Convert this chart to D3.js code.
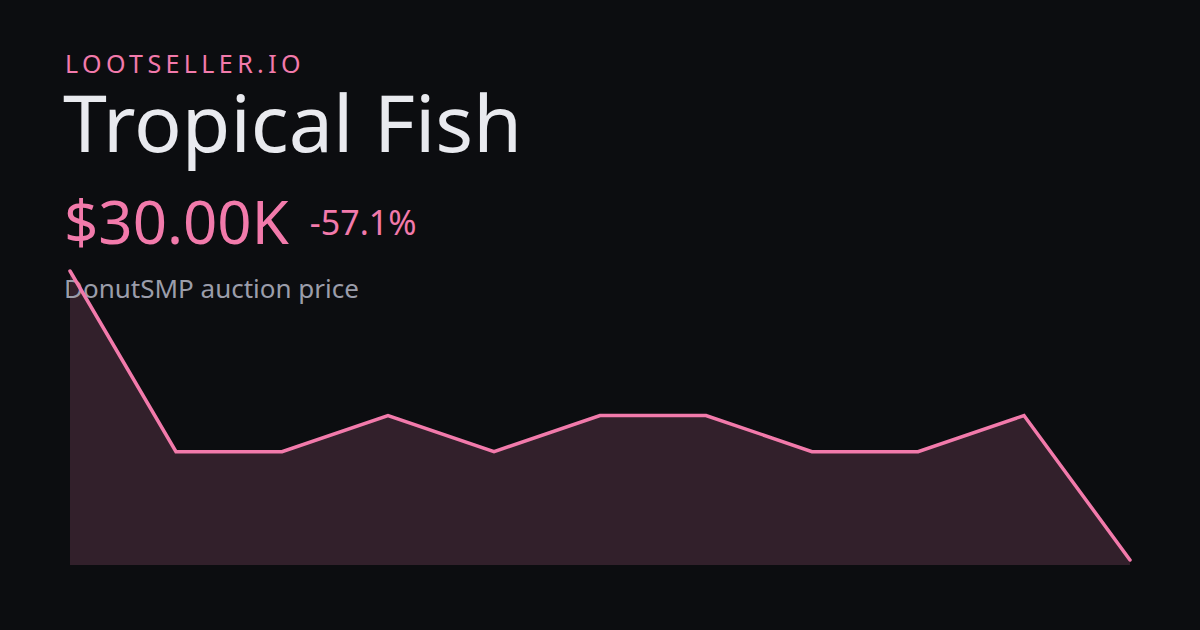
<!DOCTYPE html>
<html><head><meta charset="utf-8">
<script src="https://cdn.jsdelivr.net/npm/d3@7/dist/d3.min.js"></script>
<style>html,body{margin:0;padding:0;background:#0c0d10;}svg{display:block;}</style>
</head><body>
<svg id="c" width="1200" height="630"></svg>
<script>
const brand = "LOOTSELLER.IO";
const itemName = "Tropical Fish";
const priceLabel = "$30.00K";
const changeLabel = "-57.1%";
const subtitle = "DonutSMP auction price";
const points = [0,1,2,3,4,5,6,7,8,9,10];
const prices = [70000,45000,45000,50000,45000,50000,50000,45000,45000,50000,30000];

const svg = d3.select("#c");
const W = 1200, H = 630;
svg.append("rect").attr("width",W).attr("height",H).attr("fill","#0c0d10");

const font = "'Noto Sans', 'Open Sans', sans-serif";
const pink = "#f27aab";

const x = d3.scaleLinear().domain([0,points.length-1]).range([70,1130]);
const y = d3.scaleLinear().domain([d3.min(prices), d3.max(prices)]).range([560,271]);
const base = 565;
const data = points.map((p,i)=>({p, v:prices[i]}));

svg.append("path").datum(data)
  .attr("d", d3.area().x(d=>x(d.p)).y0(base).y1(d=>y(d.v)))
  .attr("fill","#32202b");

svg.append("text").attr("x",65).attr("y",73).attr("fill",pink)
  .attr("font-family",font).attr("font-size",25).attr("letter-spacing","4.4px").text(brand);
svg.append("text").attr("x",63).attr("y",152).attr("fill","#e9eaef")
  .attr("font-family",font).attr("font-size",79).text(itemName);
const pt = svg.append("text").attr("x",64).attr("y",244).attr("fill",pink)
  .attr("font-family",font).attr("font-size",60).text(priceLabel);
const pw = pt.node().getComputedTextLength();
svg.append("text").attr("x",64+pw+21).attr("y",235).attr("fill",pink)
  .attr("font-family",font).attr("font-size",34).text(changeLabel);
svg.append("text").attr("x",64).attr("y",298).attr("fill","#9b9daa")
  .attr("font-family",font).attr("font-size",26).text(subtitle);

svg.append("path").datum(data)
  .attr("d", d3.line().x(d=>x(d.p)).y(d=>y(d.v)))
  .attr("fill","none").attr("stroke",pink).attr("stroke-width",3.5)
  .attr("stroke-linejoin","miter").attr("stroke-linecap","round");
</script>
</body></html>
